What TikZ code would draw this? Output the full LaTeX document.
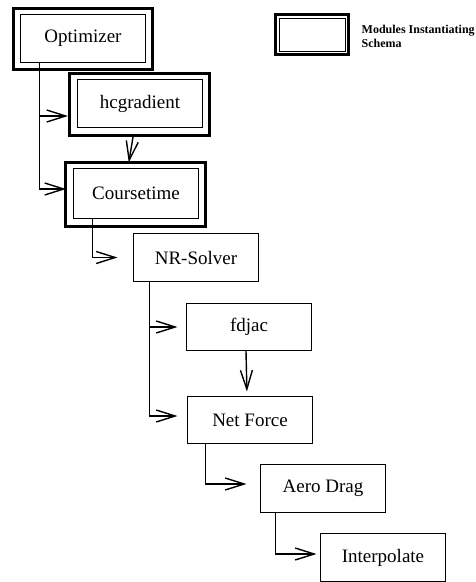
\documentclass[tikz,border=0pt]{standalone}
\usepackage{fontspec}
\setmainfont{Liberation Serif}
\usetikzlibrary{arrows.meta}
\begin{document}
\begin{tikzpicture}[x=1pt,y=-1pt,
  modbox/.style={draw, line width=1pt, inner sep=0pt, minimum width=125pt,
    minimum height=48pt, font=\fontsize{19}{22}\selectfont},
  frame/.style={draw, line width=3pt, inner sep=0pt},
  conn/.style={line width=1.4pt, -{Straight Barb[length=19pt,width=12pt]}},
  legendtext/.style={font=\fontsize{12}{14}\selectfont\bfseries, align=left, inner sep=0pt}
]
\useasboundingbox (0,0) rectangle (476,582);

% modules instantiating the schema: inner box plus heavy frame
\node[frame, minimum width=139pt, minimum height=61pt] (opt) at (83,39) {};
\node[modbox] (optin) at (83,38.5) {Optimizer};

\node[frame, minimum width=140pt, minimum height=62pt] (hcg) at (139.5,104.5) {};
\node[modbox] (hcgin) at (140,103.5) {hcgradient};

\node[frame, minimum width=140pt, minimum height=64pt] (crs) at (135.5,194.5) {};
\node[modbox, minimum height=50pt] (crsin) at (136,193.5) {Coursetime};

% legend
\node[frame, minimum width=73pt, minimum height=40pt] (leg) at (312,34.5) {};
\node[draw, line width=1pt, minimum width=66pt, minimum height=33pt, inner sep=0pt] (legin) at (312.5,35) {};
\node[legendtext, anchor=west] (legtxt) at (361.5,36) {Modules Instantiating\\Schema};

% plain modules
\node[modbox] (nr) at (196,257.5) {NR-Solver};
\node[modbox, minimum height=47pt] (fd) at (249,327) {fdjac};
\node[modbox, minimum height=47pt] (nf) at (250,420) {Net Force};
\node[modbox] (ad) at (323,488.5) {Aero Drag};
\node[modbox] (ip) at (383,557.5) {Interpolate};

% calls
\path (optin.south west) ++(19.5,0) coordinate (optdrop);
\draw[conn] (optdrop) |- ([yshift=-11.5pt]hcg.west);
\draw[conn, shorten >=-2pt] (optdrop) |- ([yshift=5.5pt]crs.west);
\draw[conn, shorten >=-1.5pt] ([xshift=-6.5pt]hcg.south) -- ([xshift=-6.5pt]crs.north);

\draw[conn, shorten >=15.5pt] ([xshift=19.5pt]crsin.south west) |- (nr.west);

\path (nr.south west) ++(16.5,0) coordinate (nrdrop);
\draw[conn, shorten >=8.5pt] (nrdrop) |- (fd.west);
\draw[conn, shorten >=9.5pt] (nrdrop) |- ([yshift=4pt]nf.west);
\draw[conn, shorten >=4.5pt] ([xshift=-3pt]fd.south) -- ([xshift=-3pt]nf.north);

\draw[conn, shorten >=13.5pt] ([xshift=18.5pt]nf.south west) |- ([yshift=4.5pt]ad.west);
\draw[conn, shorten >=3.5pt] ([xshift=15.5pt]ad.south west) |- ([yshift=3.5pt]ip.west);
\end{tikzpicture}
\end{document}
